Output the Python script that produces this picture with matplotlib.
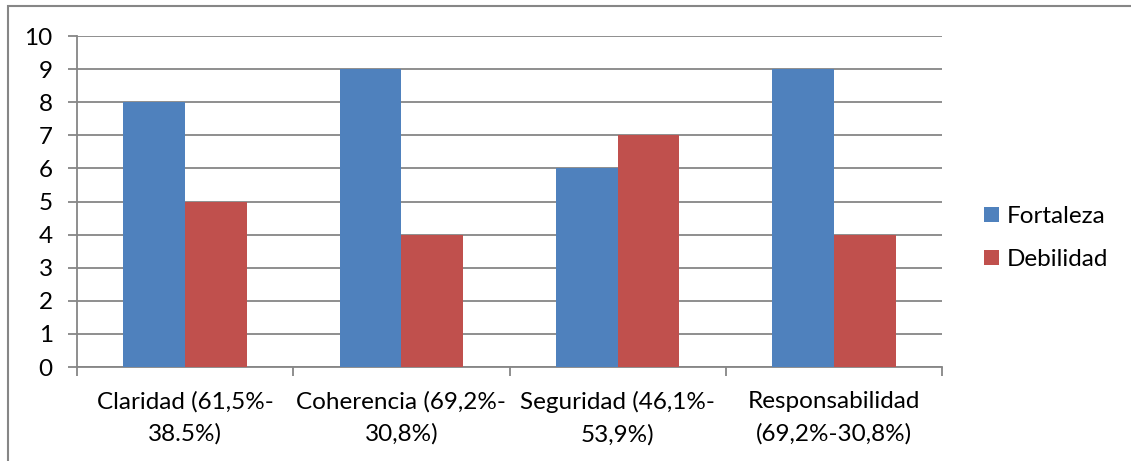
import matplotlib
matplotlib.use("Agg")
import matplotlib.pyplot as plt
import numpy as np
from matplotlib.patches import Rectangle

categorias = [
    "Claridad (61,5%-\n38.5%)",
    "Coherencia (69,2%-\n30,8%)",
    "Seguridad (46,1%-\n53,9%)",
    "Responsabilidad\n(69,2%-30,8%)",
]
fortaleza = [8, 9, 6, 9]
debilidad = [5, 4, 7, 4]
series = ["Fortaleza", "Debilidad"]

plt.rcParams["font.family"] = ["Lato", "DejaVu Sans"]

W, H = 1131, 461
fig = plt.figure(figsize=(W / 100, H / 100), dpi=100)
ax = fig.add_axes([77 / W, 1 - 367 / H, (942 - 77) / W, (367 - 36) / H])

gris = "#868686"
tam = 17.5
x = np.arange(len(categorias))
ancho = 1 / 3.5
ax.bar(x - ancho / 2, fortaleza, ancho, color="#4F81BD", label=series[0], zorder=3)
ax.bar(x + ancho / 2, debilidad, ancho, color="#C0504D", label=series[1], zorder=3)

ax.set_xlim(-0.5, len(categorias) - 0.5)
ax.set_ylim(0, 10)
ax.set_yticks(range(0, 11))
ax.grid(axis="y", color=gris, linewidth=1.3, zorder=0)

ax.set_xticks(x, categorias)
for t in ax.get_xticklabels():
    t.set_linespacing(1.65)
ax.set_xticks(np.arange(-0.5, len(categorias)), minor=True)
ax.tick_params(axis="x", which="major", length=0, pad=17, labelsize=tam)
ax.tick_params(axis="x", which="minor", length=6.5, color=gris, width=1.3)
ax.tick_params(axis="y", length=6.5, color=gris, width=1.3, pad=11, labelsize=tam)

for lado in ["top", "right"]:
    ax.spines[lado].set_visible(False)
for lado in ["left", "bottom"]:
    ax.spines[lado].set_color(gris)
    ax.spines[lado].set_linewidth(1.3)

leg = fig.legend(loc="center left", bbox_to_anchor=(984 / W, 1 - 238 / H),
                 frameon=False, fontsize=tam, handlelength=0.6, handleheight=0.6,
                 handletextpad=0.35, labelspacing=0.9, borderpad=0,
                 borderaxespad=0)

# marco del grafico (estilo Excel)
fig.patches.append(Rectangle((8 / W, -0.1), 1.2, 1 - 6 / H + 0.1,
                             transform=fig.transFigure, fill=False,
                             edgecolor=gris, linewidth=1.5))

fig.savefig("out.png", dpi=100)
